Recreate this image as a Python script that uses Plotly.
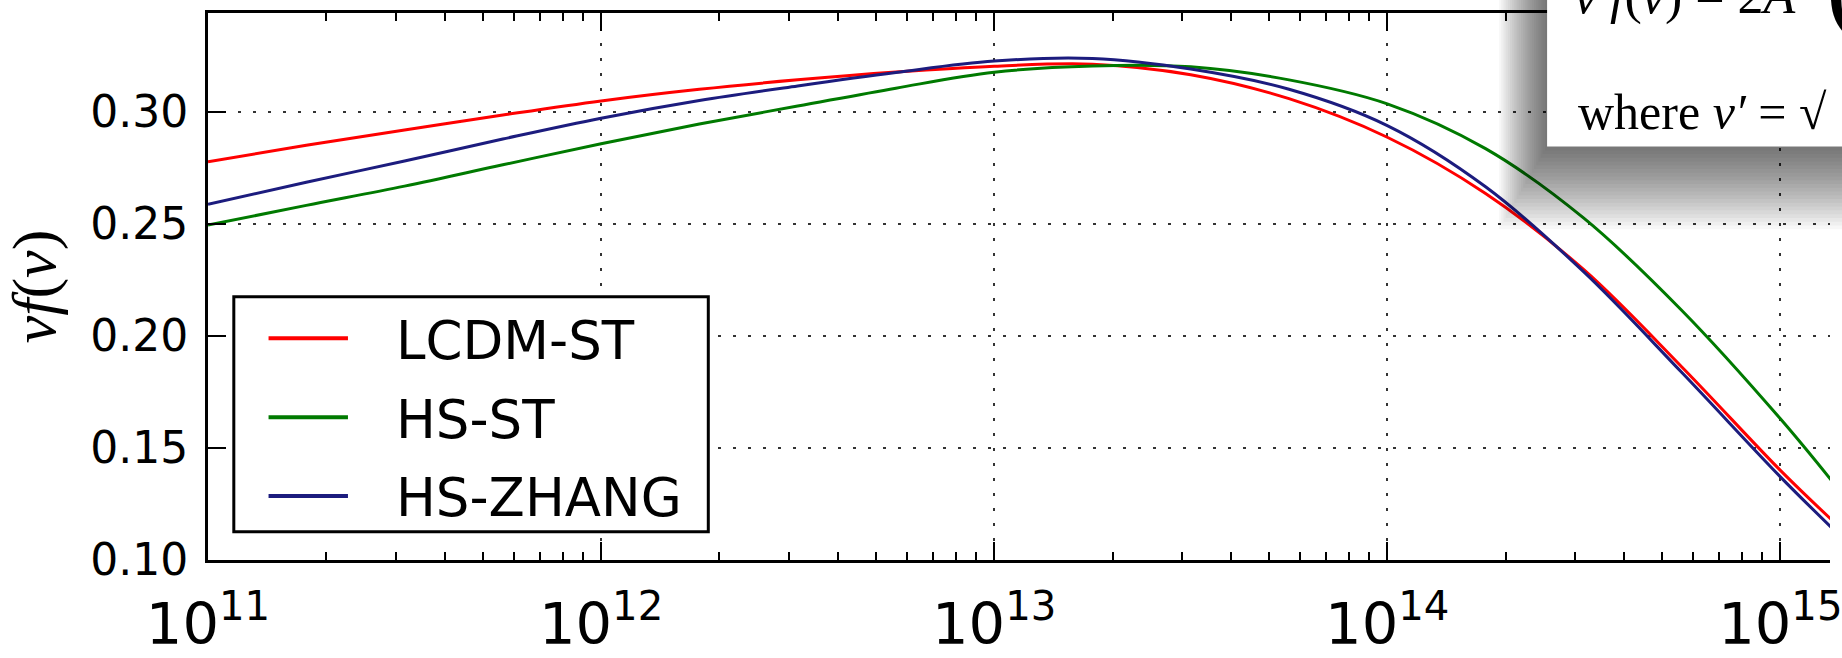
import plotly.graph_objects as go

# ---------------- data ----------------
log_mass = [11.0, 11.25, 11.5, 11.75, 12.0, 12.25, 12.5, 12.75, 13.0, 13.25,
            13.5, 13.75, 14.0, 14.25, 14.5, 14.75, 15.0, 15.13]
lcdm_st = [0.2777, 0.2850, 0.2918, 0.2985, 0.3048, 0.3100, 0.3142, 0.3177, 0.3203, 0.3212,
           0.3165, 0.3058, 0.2886, 0.2635, 0.2295, 0.1860, 0.1400, 0.1180]
hs_st = [0.2494, 0.2582, 0.2668, 0.2763, 0.2857, 0.2945, 0.3025, 0.3105, 0.3176, 0.3204,
         0.3200, 0.3142, 0.3035, 0.2835, 0.2525, 0.2112, 0.1630, 0.1355]
hs_zhang = [0.2587, 0.2685, 0.2780, 0.2878, 0.2971, 0.3050, 0.3115, 0.3175, 0.3226, 0.3237,
            0.3190, 0.3100, 0.2938, 0.2665, 0.2285, 0.1835, 0.1371, 0.1145]
series_names = ["LCDM-ST", "HS-ST", "HS-ZHANG"]
series_values = [lcdm_st, hs_st, hs_zhang]
series_colors = ["#ff0000", "#007a00", "#1c1c7e"]
y_ticks = [0.10, 0.15, 0.20, 0.25, 0.30]

# ---------------- layout geometry (pixels) ----------------
W, H = 1842, 658
L, T, B = 208, 13, 595          # plot left, top, bottom in px


def px(x):
    return (x - L) / (W - L)


def py(y):
    return (B - y) / (B - T)


mass = [10 ** v for v in log_mass]

fig = go.Figure()
for name, vals, col in zip(series_names, series_values, series_colors):
    fig.add_trace(go.Scatter(x=mass, y=vals, mode="lines", name=name,
                             line=dict(color=col, width=3, shape="spline", smoothing=1.0),
                             showlegend=False))

shapes = []
annotations = []

# ---- custom legend (matplotlib style: long line samples) ----
shapes.append(dict(type="rect", xref="paper", yref="paper",
                   x0=px(234), x1=px(712), y0=py(565), y1=py(315),
                   line=dict(color="black", width=3), fillcolor="white", layer="above"))
for i, (name, col) in enumerate(zip(series_names, series_colors)):
    yy = 359 + 84 * i
    shapes.append(dict(type="line", xref="paper", yref="paper",
                       x0=px(269), x1=px(349), y0=py(yy), y1=py(yy),
                       line=dict(color=col, width=4), layer="above"))
    annotations.append(dict(xref="paper", yref="paper", x=px(395), y=py(yy + 2),
                            xanchor="left", yanchor="middle", showarrow=False,
                            text=name, font=dict(family="DejaVu Sans", size=53, color="black")))

# ---- overlapping popup box with soft drop shadow (as in the screenshot) ----
box_l, box_b = 1557, 155
n_shadow = 22
for i in range(1, n_shadow + 1):
    shapes.append(dict(type="rect", xref="paper", yref="paper",
                       x0=px(box_l - 2.2 * i), x1=px(W + 20), y0=py(box_b + 4.0 * i), y1=py(-20),
                       line=dict(width=0), fillcolor="rgba(0,0,0,0.03)", layer="above"))
shapes.append(dict(type="rect", xref="paper", yref="paper",
                   x0=px(box_l), x1=px(W + 20), y0=py(box_b), y1=py(-20),
                   line=dict(width=0), fillcolor="white", layer="above"))
annotations.append(dict(xref="paper", yref="paper", x=px(1582), y=py(28),
                        xanchor="left", yanchor="bottom", showarrow=False,
                        text="<i>ν f</i>(<i>ν</i>) = 2<i>A</i>",
                        font=dict(family="Liberation Serif", size=52, color="black")))
annotations.append(dict(xref="paper", yref="paper", x=px(1836), y=py(48),
                        xanchor="left", yanchor="bottom", showarrow=False,
                        text="(",
                        font=dict(family="Liberation Serif", size=110, color="black")))
annotations.append(dict(xref="paper", yref="paper", x=px(1586), y=py(118),
                        xanchor="left", yanchor="middle", showarrow=False,
                        text="where <i>ν′</i> = √",
                        font=dict(family="Liberation Serif", size=50, color="black")))

grid_style = dict(showgrid=True, gridcolor="#333333", gridwidth=1.5, griddash="3px,12px")

fig.update_layout(
    width=W, height=H,
    margin=dict(l=L, r=0, t=T, b=H - B),
    paper_bgcolor="white", plot_bgcolor="white",
    shapes=shapes, annotations=annotations,
    showlegend=False,
    xaxis=dict(type="log", range=[11, 11 + (W - L) / 396.0], dtick=1,
               exponentformat="power", showexponent="all",
               ticks="inside", ticklen=18, tickwidth=1.5, tickcolor="black",
               minor=dict(ticks="inside", ticklen=8, tickwidth=1.5, tickcolor="black", showgrid=False),
               showline=True, linecolor="black", linewidth=3, mirror="ticks",
               tickfont=dict(family="DejaVu Sans", size=46, color="black"),
               ticklabeloverflow="allow", ticklabelstandoff=14,
               zeroline=False, **grid_style),
    yaxis=dict(range=[0.10, 0.30 + (118 - T) / 119.25 * 0.05], tickvals=y_ticks,
               tickformat=".2f",
               ticks="inside", ticklen=18, tickwidth=1.5, tickcolor="black",
               showline=True, linecolor="black", linewidth=3, mirror=False,
               tickfont=dict(family="DejaVu Sans", size=44, color="black"),
               ticklabelstandoff=8,
               title=dict(text="<i>νf</i>(<i>ν</i>)", standoff=22,
                          font=dict(family="Liberation Serif", size=62, color="black")),
               zeroline=False, **grid_style),
)

fig.write_html("out.html")
